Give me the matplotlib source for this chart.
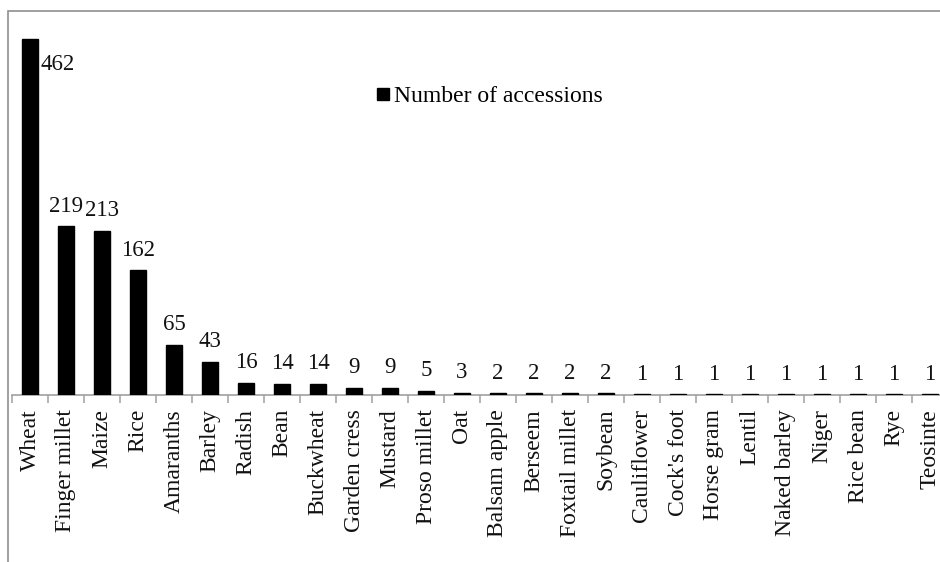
import matplotlib
matplotlib.use("Agg")
import matplotlib.pyplot as plt
from matplotlib.lines import Line2D
from matplotlib.patches import Rectangle

plt.rcParams['font.family'] = ['Liberation Serif', 'DejaVu Serif']

crops = ["Wheat", "Finger millet", "Maize", "Rice", "Amaranths", "Barley",
         "Radish", "Bean", "Buckwheat", "Garden cress", "Mustard",
         "Proso millet", "Oat", "Balsam apple", "Berseem", "Foxtail millet",
         "Soybean", "Cauliflower", "Cock's foot", "Horse gram", "Lentil",
         "Naked barley", "Niger", "Rice bean", "Rye", "Teosinte"]
accessions = [462, 219, 213, 162, 65, 43, 16, 14, 14, 9, 9, 5, 3, 2, 2, 2, 2,
              1, 1, 1, 1, 1, 1, 1, 1, 1]

W, H = 940, 562
fig = plt.figure(figsize=(W / 100, H / 100), dpi=100)

# chart area border (runs off the right and bottom edges)
fig.patches.append(Rectangle((8 / W, -0.2), 2, 1.2 - 10.7 / H,
                             transform=fig.transFigure, fill=False,
                             edgecolor='#8f8f8f', lw=1.2))

# plot area: 36 px per category, axis line at y=395
left = 12 / W
bottom = 1 - 395 / H
ymax = 480
ax = fig.add_axes([left, bottom, 26 * 36 / W, ymax * 0.77 / H])

x = list(range(len(crops)))
ax.bar(x, accessions, width=0.42, color='black', edgecolor='black',
       linewidth=1.0, zorder=3)
ax.set_xlim(-0.5, len(crops) - 0.5)
ax.set_ylim(0, ymax)

for i, v in enumerate(accessions):
    if i == 0:
        ax.annotate(str(v), (i + 0.22, v), xytext=(2, -18),
                    textcoords='offset points', ha='left', va='center',
                    fontsize=16.5, color='#111111')
    else:
        ax.annotate(str(v), (i, v), xytext=(0, 7),
                    textcoords='offset points', ha='center', va='bottom',
                    fontsize=16.5, color='#111111')

for s in ['top', 'right', 'left']:
    ax.spines[s].set_visible(False)
ax.spines['bottom'].set_color('#a0a0a0')
ax.spines['bottom'].set_linewidth(1.2)
ax.spines['bottom'].set_zorder(1)

ax.set_yticks([])
ax.set_xticks(x)
ax.set_xticklabels(crops, rotation=90, fontsize=17, color='#111111')
ax.tick_params(axis='x', which='major', length=0, pad=10)
ax.set_xticks([i - 0.5 for i in range(len(crops) + 1)], minor=True)
ax.tick_params(axis='x', which='minor', length=6, width=1.1,
               color='#a0a0a0', direction='out')

handle = Line2D([], [], marker='s', color='black', linestyle='none',
                markersize=8)
fig.legend([handle], ["Number of accessions"], loc='center left',
           bbox_to_anchor=(376 / W, 1 - 96 / H), frameon=False,
           fontsize=17, handlelength=0.6, handletextpad=0.15,
           borderpad=0, borderaxespad=0)

fig.savefig("out.png", dpi=100)
